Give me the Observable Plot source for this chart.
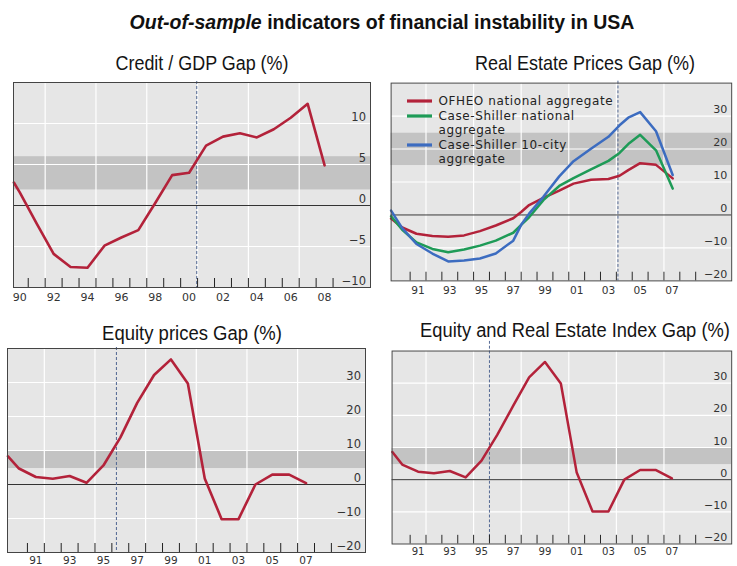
<!DOCTYPE html>
<html><head><meta charset="utf-8">
<script src="https://cdn.jsdelivr.net/npm/d3@7"></script>
<script src="https://cdn.jsdelivr.net/npm/@observablehq/plot@0.6"></script>
<style>
html,body{margin:0;padding:0;background:#fff;overflow:hidden;}
#root{position:relative;width:737px;height:566px;overflow:hidden;background:#fff;}
.panel{position:absolute;}
.panel svg{display:block;}
#overlay{position:absolute;left:0;top:0;pointer-events:none;}
</style></head><body><div id="root"></div>
<script>
// ---------------- data ----------------
const tickYears = [1991,1992,1993,1994,1995,1996,1997,1998,1999,2000,2001,2002,2003,2004,2005,2006,2007,2008,2009];
const gridYears = [1992,1995,1998,2001,2004,2007];
const evenLabelYears = [1990,1992,1994,1996,1998,2000,2002,2004,2006,2008];
const oddLabelYears = [1991,1993,1995,1997,1999,2001,2003,2005,2007];

// Credit / GDP gap
const creditYears = [1990.15,1990.5,1991.5,1992.5,1993.5,1994.5,1995.5,1996.5,1997.5,1998.5,1999.5,2000.5,2001.5,2002.5,2003.5,2004.5,2005.5,2006.5,2007.5,2008.5];
const creditGap   = [2.8,1.6,-2.2,-5.9,-7.5,-7.6,-4.9,-3.9,-3.0,0.3,3.7,4.0,7.3,8.4,8.8,8.3,9.3,10.7,12.4,4.9];

// Real estate prices gap
const reYears    = [1989.8,1990.5,1991.4,1992.4,1993.4,1994.4,1995.4,1996.4,1997.5,1998.0,1998.5,1999.4,2000.4,2001.3,2002.4,2003.5,2004.2,2004.75,2005.5,2006.5,2007.55];
const ofheo      = [-1.1,-3.8,-5.7,-6.4,-6.6,-6.2,-4.9,-3.2,-1.0,0.9,3.0,5.2,7.4,9.5,10.7,10.9,11.9,13.6,15.7,15.2,11.1];
const csNational = [-0.4,-4.5,-8.3,-10.3,-11.3,-10.5,-9.3,-7.8,-5.4,-3.0,-0.7,4.5,8.8,11.2,13.8,16.4,18.8,21.5,24.3,19.6,8.0];
const cs10city   = [1.3,-4.0,-8.8,-11.7,-14.1,-13.8,-13.2,-11.7,-7.8,-3.0,0.4,5.5,11.7,16.3,20.1,23.7,27.2,29.5,31.2,25.4,12.1];

// Equity prices gap
const equityYears = [1989.85,1990.5,1991.5,1992.5,1993.5,1994.5,1995.5,1996.5,1997.5,1998.5,1999.5,2000.5,2001.5,2002.5,2003.5,2004.5,2005.5,2006.5,2007.5];
const equityGap   = [8.3,4.7,2.2,1.7,2.5,0.5,5.6,13.8,24.0,32.2,36.8,29.7,1.8,-10.2,-10.2,0.0,2.9,2.9,0.4];

// Equity and real estate index gap
const indexYears = [1989.88,1990.5,1991.5,1992.5,1993.5,1994.5,1995.5,1996.5,1997.5,1998.5,1999.5,2000.5,2001.5,2002.5,2003.5,2004.5,2005.5,2006.5,2007.5];
const indexGap   = [8.6,4.7,2.5,2.0,2.7,0.7,5.9,14.0,23.0,31.8,36.6,29.9,2.2,-9.9,-9.9,0.0,3.0,3.0,0.4];

// thresholds (shaded bands) and out-of-sample split years
const creditBand = [1.9, 5.95];
const reBand = [15.0, 24.8];
const equityBand = [4.7, 9.7];
const indexBand = [4.7, 9.7];
const splitYears = [2000.95, 2004.1, 1996.27, 1996.0];

const titles = ["Credit / GDP Gap (%)", "Real Estate Prices Gap (%)", "Equity prices Gap (%)", "Equity and Real Estate Index Gap (%)"];
const legendLabels = [["OFHEO national aggregate"], ["Case-Shiller national", "aggregate"], ["Case-Shiller 10-city", "aggregate"]];

const RED = "#b3223a", GREEN = "#1e9b57", BLUE = "#3c6cc0";

// ---------------- drawing ----------------
const root = document.getElementById("root");
const fmt = d => d < 0 ? "\u2212" + Math.abs(d) : String(d);
const rows = (xs, ys) => xs.map((x, i) => ({x, y: ys[i]}));

function panel(o) {
  const fh = o.height - o.mt - o.mb;
  const chart = Plot.plot({
    width: o.width, height: o.height,
    marginTop: o.mt, marginRight: o.mr, marginBottom: o.mb, marginLeft: o.ml,
    x: {domain: o.xDomain, axis: null},
    y: {domain: o.yDomain, axis: null},
    style: {background: "transparent", overflow: "visible", fontFamily: "DejaVu Sans, sans-serif"},
    marks: [
      Plot.frame({fill: "#e6e6e6"}),
      Plot.rect([o.band], {y1: d => d[0], y2: d => d[1], fill: "#c3c3c3"}),
      Plot.ruleY(o.yGrid, {stroke: "#fff", strokeWidth: 1.2}),
      Plot.ruleX(gridYears, {stroke: "#fff", strokeWidth: 1.2}),
      Plot.ruleY([0], {stroke: "#333", strokeWidth: 1}),
      Plot.ruleX([o.split], {stroke: "#4f6590", strokeWidth: 1, strokeDasharray: "3,2", insetTop: o.splitInset || 0}),
      Plot.ruleX(tickYears, {stroke: "#222", strokeWidth: 1, insetTop: fh - 9}),
      ...o.series.map(s => Plot.line(rows(s.x, s.y), {x: "x", y: "y", stroke: s.color, strokeWidth: 2.6, strokeLinejoin: "round", strokeLinecap: "round"})),
      Plot.text(o.yLabels, {y: d => d, frameAnchor: "right", dx: -4.5, dy: -3, textAnchor: "end", lineAnchor: "bottom", text: fmt, fontSize: 11.5, fill: "#333"}),
      Plot.text(o.xLabels, {x: d => d + 0.5, frameAnchor: "bottom", lineAnchor: "top", dy: o.xdy, text: d => String(d % 100).padStart(2, "0"), fontSize: o.xfs, fill: "#333"}),
      Plot.frame({stroke: "#444", strokeWidth: 1})
    ]
  });
  const div = document.createElement("div");
  div.className = "panel";
  div.style.left = o.left + "px";
  div.style.top = o.top + "px";
  div.appendChild(chart);
  root.appendChild(div);
}

panel({left: 0, top: 72, width: 380, height: 240, mt: 10, mr: 10, mb: 25, ml: 13,
  xDomain: [1990.13, 2011.21], yDomain: [-10, 15], band: creditBand,
  yGrid: [-5, 5, 10], yLabels: [-10, -5, 0, 5, 10], xLabels: evenLabelYears, xdy: 6, xfs: 11,
  split: splitYears[0], splitInset: -1,
  series: [{x: creditYears, y: creditGap, color: RED}]});

panel({left: 380, top: 72, width: 370, height: 240, mt: 11, mr: 6, mb: 24, ml: 11,
  xDomain: [1989.80, 2011.27], yDomain: [-20, 40], band: reBand,
  yGrid: [-10, 10, 20, 30], yLabels: [-20, -10, 0, 10, 20, 30], xLabels: oddLabelYears, xdy: 6, xfs: 11,
  split: splitYears[1], splitInset: -2,
  series: [{x: reYears, y: ofheo, color: RED}, {x: reYears, y: csNational, color: GREEN}, {x: reYears, y: cs10city, color: BLUE}]});

panel({left: 0, top: 338, width: 375, height: 240, mt: 10, mr: 10, mb: 26, ml: 7,
  xDomain: [1989.82, 2011.02], yDomain: [-20, 40], band: equityBand,
  yGrid: [-10, 10, 20, 30], yLabels: [-20, -10, 0, 10, 20, 30], xLabels: oddLabelYears, xdy: 4, xfs: 10.5,
  split: splitYears[2], splitInset: -1,
  series: [{x: equityYears, y: equityGap, color: RED}]});

panel({left: 380, top: 338, width: 370, height: 240, mt: 13, mr: 6, mb: 27, ml: 12,
  xDomain: [1989.86, 2011.27], yDomain: [-20, 40], band: indexBand,
  yGrid: [-10, 10, 20, 30], yLabels: [-20, -10, 0, 10, 20, 30], xLabels: oddLabelYears, xdy: 3.5, xfs: 10.5,
  split: splitYears[3], splitInset: -10,
  series: [{x: indexYears, y: indexGap, color: RED}]});

// ---------------- titles & legend ----------------
const svg = d3.select(root).append("svg").attr("id", "overlay").attr("width", 737).attr("height", 566);
const main = svg.append("text").attr("x", 382).attr("y", 28.5).attr("text-anchor", "middle")
  .attr("font-family", "Liberation Sans, Arial, sans-serif").attr("font-size", 19.5).attr("font-weight", "bold").attr("fill", "#111");
main.append("tspan").attr("font-style", "italic").text("Out-of-sample");
main.append("tspan").text(" indicators of financial instability in USA");

// panel titles: condensed look obtained by horizontally scaling a regular sans
const titlePos = [[202, 70], [585, 69.5], [192, 339.5], [575, 337]];
const titleWidth = [173, 220, 180, 310];
titles.forEach((t, i) => {
  const tx = svg.append("text").attr("x", 0).attr("y", 0).attr("text-anchor", "middle")
    .attr("font-family", "Liberation Sans, Arial, sans-serif")
    .attr("font-size", 21).attr("fill", "#141414").text(t);
  const natural = tx.node().getComputedTextLength();
  const k = natural > 0 ? titleWidth[i] / natural : 1;
  tx.attr("transform", `translate(${titlePos[i][0]},${titlePos[i][1]}) scale(${k},1)`);
});

const legColors = [RED, GREEN, BLUE];
const swatchY = [101, 116, 145];
const textBase = [[105], [120, 134], [148.5, 163]];
legendLabels.forEach((lines, i) => {
  svg.append("line").attr("x1", 407).attr("x2", 432).attr("y1", swatchY[i]).attr("y2", swatchY[i])
    .attr("stroke", legColors[i]).attr("stroke-width", 3.2);
  lines.forEach((l, j) => {
    svg.append("text").attr("x", 438.5).attr("y", textBase[i][j])
      .attr("font-family", "DejaVu Sans, sans-serif").attr("font-size", 12)
      .attr("letter-spacing", 0.6).attr("fill", "#222").text(l);
  });
});
</script>
</body></html>
